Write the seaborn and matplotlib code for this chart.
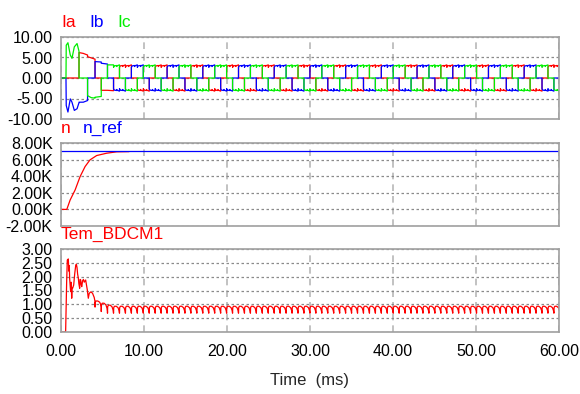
import numpy as np
import pandas as pd
import matplotlib
matplotlib.use("Agg")
import matplotlib.pyplot as plt
from matplotlib.ticker import FixedLocator, FuncFormatter
import seaborn as sns

# ---- data (time in ms) ----
t_end = 60.0

# commutation instants during start-up, then a constant step once settled
comm_start = [0.6, 2.17, 3.2, 4.1, 4.85, 5.6, 6.33]
steady_step = 0.717

# (positive phase, negative phase) per 60 deg step; 0=Ia 1=Ib 2=Ic
step_order = [(2, 1), (0, 1), (0, 2), (1, 2), (1, 0), (2, 0)]

# current magnitude inside a step: (fraction of step, A)
start_pos = [
    [(0, 0), (0.02, 8.0), (0.15, 8.6), (0.33, 5.6), (0.46, 4.8), (0.64, 7.6), (0.85, 8.4), (0.97, 6.8), (1, 6.5)],
    [(0, 6.2), (0.5, 6.0), (1, 5.6)],
    [(0, 5.2), (1, 4.6)],
    [(0, 4.0), (1, 3.9)],
    [(0, 3.6), (1, 3.4)],
    [(0, 3.2), (1, 3.2)],
]
start_neg = [
    [(0, 0), (0.02, 6.7), (0.15, 8.3), (0.33, 5.1), (0.46, 5.9), (0.64, 7.9), (0.85, 7.5), (0.97, 6.3), (1, 6.1)],
    [(0, 5.9), (0.5, 5.9), (1, 5.5)],
    [(0, 4.3), (0.5, 4.8), (1, 4.9)],
    [(0, 4.7), (1, 4.5)],
    [(0, 3.0), (1, 3.0)],
    [(0, 3.0), (1, 3.1)],
]
steady_shape = [(0, 2.6), (0.12, 2.95), (0.5, 3.05), (0.55, 2.8), (0.62, 3.0), (1, 3.2)]

# speed n (rpm) and reference; n is hidden under n_ref after ~8 ms
speed_t = [0.0, 0.7, 1.1, 1.7, 2.3, 2.9, 3.5, 4.3, 5.5, 6.7, 8.2]
speed_n = [0, 0, 1130, 2340, 3950, 5160, 5970, 6490, 6770, 6935, 6960]
nref_t = [0.0, 60.0]
nref_n = [7000, 7000]

# torque during start-up (ms, N.m)
tem_t = [0.0, 0.5, 0.56, 0.6, 0.68, 0.76, 0.88, 0.95, 1.0, 1.04, 1.1, 1.16, 1.22, 1.29, 1.35,
         1.4, 1.53, 1.65, 1.77, 1.85, 1.93, 2.0, 2.09, 2.15, 2.25, 2.3, 2.37, 2.44, 2.5, 2.6,
         2.7, 2.8, 2.97, 3.07, 3.17, 3.29, 3.4, 3.6, 3.8, 4.0, 4.1]
tem_v = [0.0, 0.0, 0.04, 0.6, 1.8, 2.6, 2.64, 2.2, 2.4, 1.94, 1.7, 1.46, 1.8, 1.22, 1.6,
         1.58, 1.7, 2.1, 2.4, 2.45, 2.33, 2.1, 1.94, 1.75, 1.58, 1.9, 1.88, 1.7, 1.64, 1.85,
         1.9, 1.8, 1.88, 1.7, 1.52, 1.22, 1.4, 1.45, 1.4, 1.25, 1.1]
# ripple per commutation step after 4.1 ms
tem_peak_start = [1.12, 1.04, 0.97]
tem_dip_start = [0.9, 0.74, 0.68]
tem_peak, tem_dip = 0.93, 0.68
scallop = [(0, 0.0), (0.03, 0.8), (0.15, 1.0), (0.45, 1.0), (0.75, 0.8), (0.92, 0.4), (1.0, 0.0)]

# ---- build the traces ----
comm_t = list(comm_start)
while comm_t[-1] < t_end:
    comm_t.append(comm_t[-1] + steady_step)

cur_t = [[0.0], [0.0], [0.0]]
cur_v = [[0.0], [0.0], [0.0]]
torque_t, torque_v = list(tem_t), list(tem_v)
for k in range(len(comm_t) - 1):
    t0, t1 = comm_t[k], comm_t[k + 1]
    p, n = step_order[k % 6]
    shp_p = start_pos[k] if k < len(start_pos) else steady_shape
    shp_n = start_neg[k] if k < len(start_neg) else steady_shape
    for ph in range(3):
        if ph == p:
            pts = [(f, v) for f, v in shp_p]
        elif ph == n:
            pts = [(f, -v) for f, v in shp_n]
        else:
            pts = [(0, 0.0), (1, 0.0)]
        for f, v in pts:
            cur_t[ph].append(t0 + f * (t1 - t0))
            cur_v[ph].append(v)
    if k >= 3:
        j = k - 3
        pk = tem_peak_start[j] if j < len(tem_peak_start) else tem_peak
        dp = tem_dip_start[j] if j < len(tem_dip_start) else tem_dip
        for f, v in scallop:
            torque_t.append(t0 + f * (t1 - t0))
            torque_v.append(dp + v * (pk - dp))

# ---- figure ----
sns.set_style("white")
plt.rcParams['font.family'] = ['Liberation Sans', 'DejaVu Sans']

RED, BLUE, GREEN = '#ff0000', '#0000ff', '#00ee00'
W, H = 580, 394
fig = plt.figure(figsize=(W / 100, H / 100), dpi=100)

def make_axes(top, bottom):
    return fig.add_axes([61 / W, 1 - bottom / H, 498 / W, (bottom - top) / H])

ax1 = make_axes(37, 119)
ax2 = make_axes(143, 226)
ax3 = make_axes(249, 332)

for ph, col in zip(range(3), [RED, BLUE, GREEN]):
    df = pd.DataFrame({'t': cur_t[ph], 'i': cur_v[ph]})
    sns.lineplot(data=df, x='t', y='i', ax=ax1, color=col, linewidth=0.9, estimator=None, sort=False)

sns.lineplot(x=speed_t, y=speed_n, ax=ax2, color=RED, linewidth=0.9, estimator=None, sort=False)
sns.lineplot(x=nref_t, y=nref_n, ax=ax2, color=BLUE, linewidth=0.9, estimator=None, sort=False)

sns.lineplot(x=torque_t, y=torque_v, ax=ax3, color=RED, linewidth=0.9, estimator=None, sort=False)

settings = [
    (ax1, (-10, 10), [-10, -5, 0, 5, 10], lambda v, _: f"{v:.2f}"),
    (ax2, (-2000, 8000), [-2000, 0, 2000, 4000, 6000, 8000], lambda v, _: f"{v / 1000:.2f}K"),
    (ax3, (0, 3), [0, 0.5, 1, 1.5, 2, 2.5, 3], lambda v, _: f"{v:.2f}"),
]
for ax, ylim, yt, fmt in settings:
    ax.set_xlim(0, t_end)
    ax.set_ylim(*ylim)
    ax.yaxis.set_major_locator(FixedLocator(yt))
    ax.yaxis.set_major_formatter(FuncFormatter(fmt))
    ax.xaxis.set_major_locator(FixedLocator([0, 10, 20, 30, 40, 50, 60]))
    ax.xaxis.set_major_formatter(FuncFormatter(lambda v, _: f"{v:.2f}"))
    ax.set_axisbelow(True)
    ax.grid(axis='x', color='#b8b8b8', linestyle=(0, (4, 3)), linewidth=1.2)
    ax.grid(axis='y', color='#8a8a8a', linestyle=(0, (2, 2)), linewidth=0.9)
    ax.tick_params(length=0, pad=6, labelsize=11.5, colors='black')
    for s in ax.spines.values():
        s.set_color('#a0a0a0')
        s.set_linewidth(1.2)
    ax.set_xlabel('')
    ax.set_ylabel('')
    if ax is not ax3:
        ax.tick_params(labelbottom=False)
ax3.tick_params(axis='x', pad=9)

fig.text(310 / W, 1 - 381 / H, 'Time  (ms)', ha='center', va='center', fontsize=12)

def label(x, y, s, c):
    fig.text(x / W, 1 - y / H, s, color=c, fontsize=12.5, ha='left', va='baseline')

label(61, 27, 'Ia', RED)
label(89, 27, 'Ib', BLUE)
label(117, 27, 'Ic', GREEN)
label(61, 133, 'n', RED)
label(83, 133, 'n_ref', BLUE)
label(61, 239, 'Tem_BDCM1', RED)

fig.savefig('out.png', dpi=100)
